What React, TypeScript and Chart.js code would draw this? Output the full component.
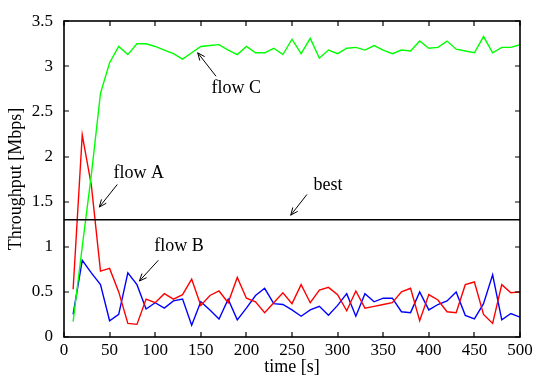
import { useEffect, useRef } from "react";
import { Chart, registerables } from "chart.js";

Chart.register(...registerables);

// ---- data ----
const times = [
  10, 20, 30, 40, 50, 60, 70, 80, 90, 100,
  110, 120, 130, 140, 150, 160, 170, 180, 190, 200,
  210, 220, 230, 240, 250, 260, 270, 280, 290, 300,
  310, 320, 330, 340, 350, 360, 370, 380, 390, 400,
  410, 420, 430, 440, 450, 460, 470, 480, 490, 500,
];

const flowA = [
  0.53, 2.24, 1.68, 0.73, 0.76, 0.5, 0.15, 0.14, 0.42, 0.38,
  0.48, 0.42, 0.47, 0.64, 0.35, 0.46, 0.51, 0.38, 0.66, 0.43,
  0.39, 0.27, 0.38, 0.49, 0.37, 0.58, 0.38, 0.52, 0.55, 0.47,
  0.29, 0.51, 0.32, 0.34, 0.36, 0.38, 0.5, 0.54, 0.18, 0.47,
  0.41, 0.28, 0.27, 0.58, 0.61, 0.25, 0.15, 0.58, 0.49, 0.5,
];

const flowB = [
  0.25, 0.85, 0.71, 0.58, 0.18, 0.25, 0.71, 0.58, 0.31, 0.38,
  0.32, 0.4, 0.42, 0.13, 0.39, 0.3, 0.2, 0.42, 0.19, 0.32,
  0.46, 0.54, 0.37, 0.36, 0.3, 0.23, 0.3, 0.34, 0.24, 0.35,
  0.48, 0.23, 0.48, 0.39, 0.43, 0.43, 0.28, 0.27, 0.5, 0.3,
  0.36, 0.4, 0.5, 0.24, 0.2, 0.37, 0.69, 0.19, 0.26, 0.22,
];

const flowC = [
  0.17, 1.0, 1.8, 2.7, 3.04, 3.22, 3.13, 3.25, 3.25, 3.22,
  3.18, 3.14, 3.08, 3.15, 3.22, 3.23, 3.24, 3.18, 3.13, 3.22,
  3.15, 3.15, 3.2, 3.13, 3.3, 3.14, 3.31, 3.09, 3.18, 3.14,
  3.2, 3.21, 3.18, 3.23, 3.18, 3.14, 3.18, 3.17, 3.28, 3.2,
  3.21, 3.28, 3.19, 3.17, 3.15, 3.33, 3.15, 3.21, 3.21, 3.24,
];

const bestValue = 1.3;
const bestSpan = [0, 500];

const xRange = [0, 500];
const xStep = 50;
const yRange = [0, 3.5];
const yStep = 0.5;

const xTitle = "time [s]";
const yTitle = "Throughput [Mbps]";

// annotation labels with arrows (data coordinates)
const annotationTexts = ["flow C", "flow A", "best", "flow B"];
const annotationTextAt = [
  [189, 2.76],
  [82, 1.81],
  [289.5, 1.68],
  [126, 1.01],
];
const annotationTail = [
  [166.7, 2.89],
  [58.4, 1.69],
  [266.4, 1.58],
  [103.4, 0.85],
];
const annotationTip = [
  [146.6, 3.15],
  [38.7, 1.44],
  [248.6, 1.35],
  [82.6, 0.62],
];

const FONT = "'Liberation Serif', 'Times New Roman', serif";

const toPoints = (xs: number[], ys: number[]) => xs.map((x, i) => ({ x, y: ys[i] }));

const notesPlugin = {
  id: "notes",
  afterDraw(chart: any) {
    const ctx: CanvasRenderingContext2D = chart.ctx;
    const xs = chart.scales.x;
    const ys = chart.scales.y;
    const L = Math.round(xs.getPixelForValue(xRange[0]));
    const R = Math.round(xs.getPixelForValue(xRange[1]));
    const B = Math.round(ys.getPixelForValue(yRange[0]));
    const T = Math.round(ys.getPixelForValue(yRange[1]));
    ctx.save();
    ctx.strokeStyle = "#000000";
    ctx.fillStyle = "#000000";

    // tick marks (inside, all four sides)
    ctx.lineWidth = 1.2;
    ctx.beginPath();
    for (let v = xRange[0]; v <= xRange[1] + 1e-9; v += xStep) {
      const px = Math.round(xs.getPixelForValue(v));
      ctx.moveTo(px, B);
      ctx.lineTo(px, B - 5);
      ctx.moveTo(px, T);
      ctx.lineTo(px, T + 5);
    }
    for (let v = yRange[0]; v <= yRange[1] + 1e-9; v += yStep) {
      const py = Math.round(ys.getPixelForValue(v));
      ctx.moveTo(L, py);
      ctx.lineTo(L + 5, py);
      ctx.moveTo(R, py);
      ctx.lineTo(R - 5, py);
    }
    ctx.stroke();
    // frame
    ctx.lineWidth = 1.6;
    ctx.strokeRect(L, T, R - L, B - T);

    // annotations
    ctx.font = `18px ${FONT}`;
    ctx.textAlign = "center";
    ctx.textBaseline = "middle";
    ctx.lineWidth = 1;
    annotationTexts.forEach((txt, i) => {
      const tx = xs.getPixelForValue(annotationTextAt[i][0]);
      const ty = ys.getPixelForValue(annotationTextAt[i][1]);
      ctx.fillText(txt, tx, ty);
      const ax = xs.getPixelForValue(annotationTail[i][0]);
      const ay = ys.getPixelForValue(annotationTail[i][1]);
      const bx = xs.getPixelForValue(annotationTip[i][0]);
      const by = ys.getPixelForValue(annotationTip[i][1]);
      ctx.beginPath();
      ctx.moveTo(ax, ay);
      ctx.lineTo(bx, by);
      const ang = Math.atan2(by - ay, bx - ax);
      const hl = 8;
      const ha = 0.4;
      ctx.moveTo(bx, by);
      ctx.lineTo(bx - hl * Math.cos(ang - ha), by - hl * Math.sin(ang - ha));
      ctx.moveTo(bx, by);
      ctx.lineTo(bx - hl * Math.cos(ang + ha), by - hl * Math.sin(ang + ha));
      ctx.stroke();
    });
    ctx.restore();
  },
};

export default function App() {
  const canvasRef = useRef<HTMLCanvasElement | null>(null);

  useEffect(() => {
    if (!canvasRef.current) return;
    const chart = new Chart(canvasRef.current, {
      type: "line",
      data: {
        datasets: [
          {
            label: "best",
            data: [
              { x: bestSpan[0], y: bestValue },
              { x: bestSpan[1], y: bestValue },
            ],
            borderColor: "#000000",
            borderWidth: 1.6,
            pointRadius: 0,
          },
          {
            label: "flow C",
            data: toPoints(times, flowC),
            borderColor: "#00ff00",
            borderWidth: 1.4,
            pointRadius: 0,
          },
          {
            label: "flow A",
            data: toPoints(times, flowA),
            borderColor: "#ff0000",
            borderWidth: 1.4,
            pointRadius: 0,
          },
          {
            label: "flow B",
            data: toPoints(times, flowB),
            borderColor: "#0000ff",
            borderWidth: 1.4,
            pointRadius: 0,
          },
        ],
      },
      options: {
        animation: false,
        responsive: true,
        maintainAspectRatio: false,
        devicePixelRatio: 1,
        layout: { padding: { top: 17, right: 31, left: 0, bottom: 0 } },
        plugins: {
          legend: { display: false },
          tooltip: { enabled: false },
        },
        scales: {
          x: {
            type: "linear",
            min: xRange[0],
            max: xRange[1],
            grid: { display: false, drawTicks: false },
            border: { display: false },
            ticks: {
              stepSize: xStep,
              color: "#000",
              font: { family: FONT, size: 17 },
              padding: 3,
              maxRotation: 0,
              autoSkip: false,
              callback: (v: any) => String(v),
            },
            title: {
              display: true,
              text: xTitle,
              color: "#000",
              font: { family: FONT, size: 18 },
              padding: { top: 0, bottom: 3 },
            },
            afterFit: (scale: any) => {
              scale.height = 44;
            },
          },
          y: {
            type: "linear",
            min: yRange[0],
            max: yRange[1],
            grid: { display: false, drawTicks: false },
            border: { display: false },
            ticks: {
              stepSize: yStep,
              color: "#000",
              font: { family: FONT, size: 17 },
              padding: 11,
              callback: (v: any) => String(v),
            },
            title: {
              display: true,
              text: yTitle,
              color: "#000",
              font: { family: FONT, size: 18 },
              padding: { top: 5, bottom: 0 },
            },
            afterFit: (scale: any) => {
              scale.width = 64;
            },
          },
        },
      },
      plugins: [notesPlugin],
    });
    return () => chart.destroy();
  }, []);

  return (
    <div style={{ position: "fixed", left: 0, top: 0, width: 551, height: 381, background: "#fff" }}>
      <canvas ref={canvasRef} />
    </div>
  );
}
